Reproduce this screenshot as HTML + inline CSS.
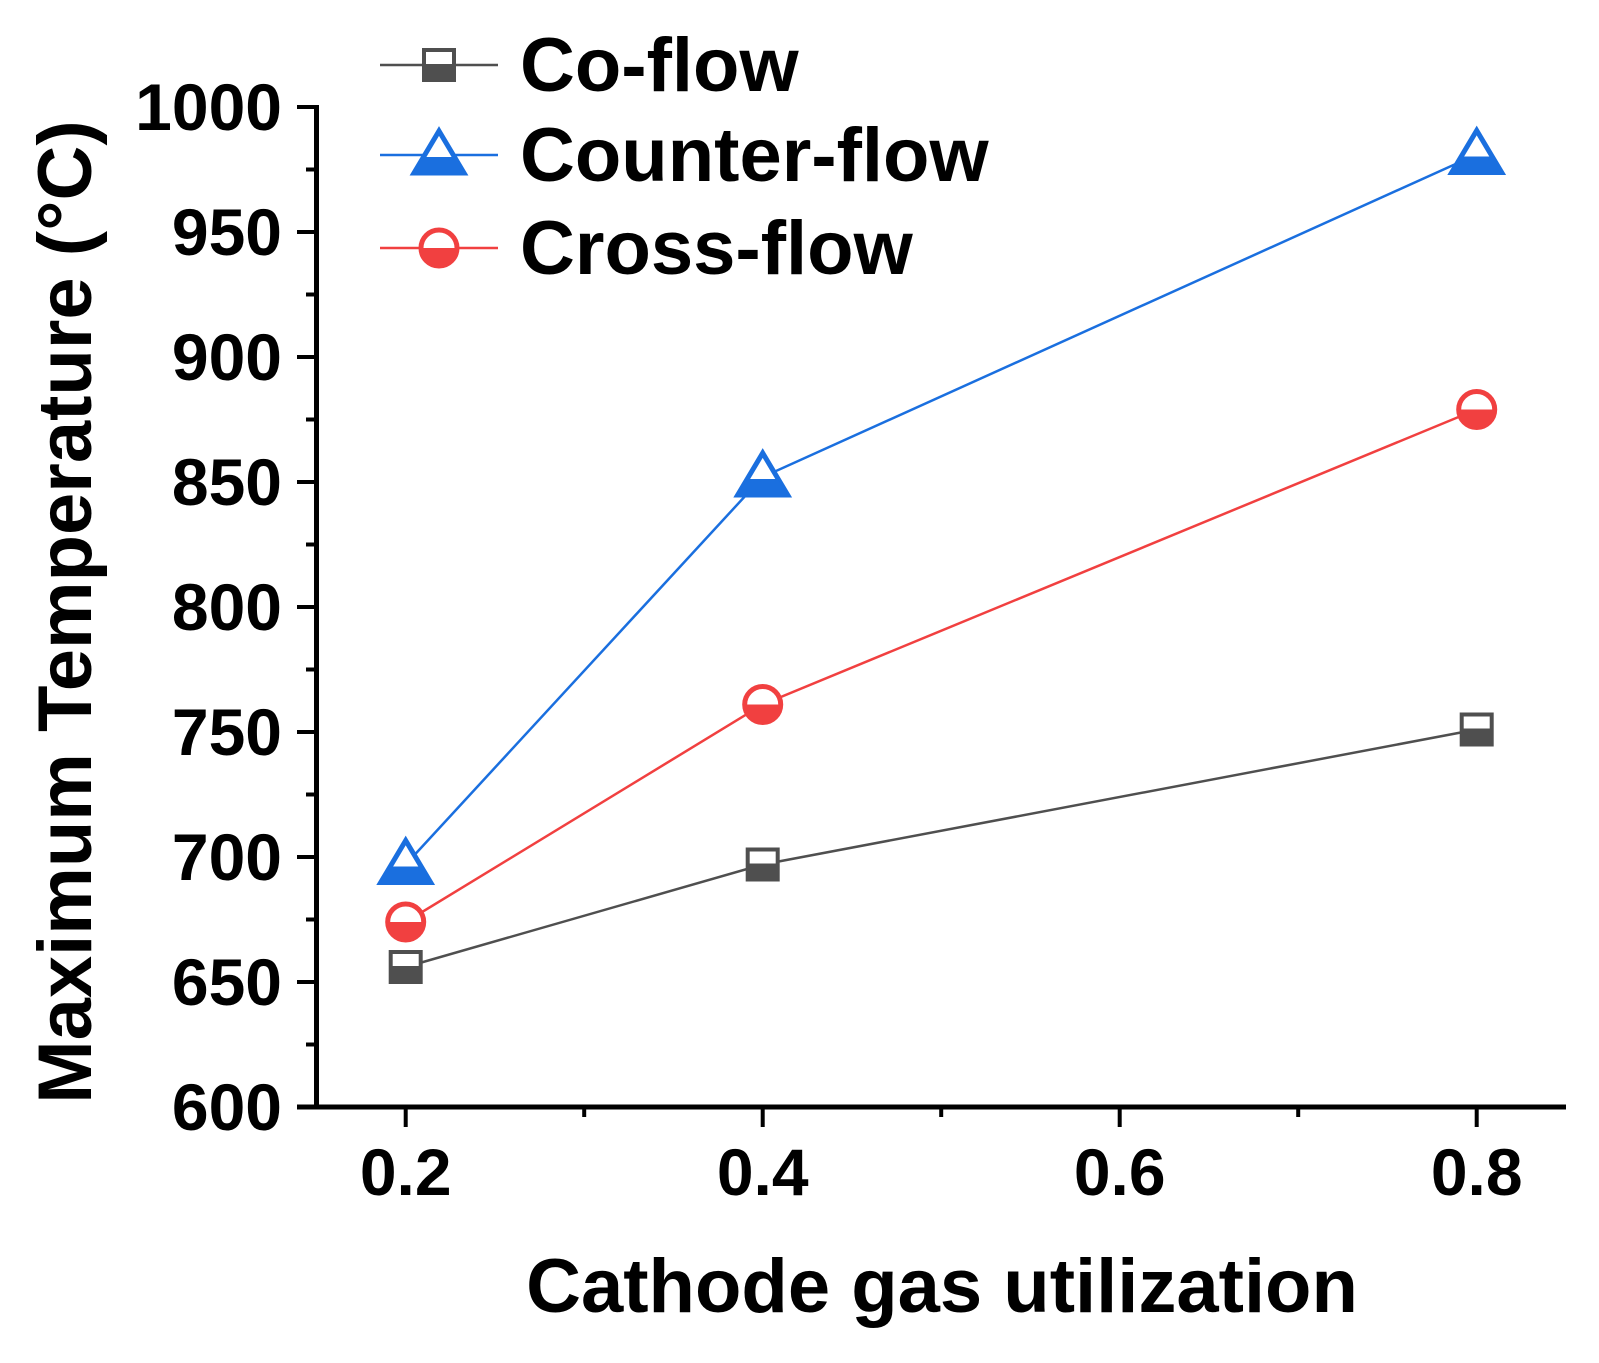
<!DOCTYPE html>
<html><head><meta charset="utf-8"><style>
html,body{margin:0;padding:0;background:#fff;}
svg{display:block;font-family:"Liberation Sans",Arial,sans-serif;font-weight:bold;}
</style></head><body>
<svg id="chart" width="1599" height="1363" viewBox="0 0 1599 1363" xmlns="http://www.w3.org/2000/svg">
<g id="axes"></g>
<g id="series"></g>
<g id="legend"></g>
</svg>
<script>
const xCats = [0.2, 0.4, 0.8];
const coFlow = [656, 697, 751];
const counterFlow = [697, 852, 981];
const crossFlow = [674, 761, 879];
const yTicks = [600, 650, 700, 750, 800, 850, 900, 950, 1000];
const xTicks = [0.2, 0.4, 0.6, 0.8];
const seriesNames = ["Co-flow", "Counter-flow", "Cross-flow"];

const NS = "http://www.w3.org/2000/svg";
const X = v => 405.7 + (v - 0.2) * 1785;
const Y = v => 1107 - (v - 600) * 2.5;
function mk(tag, attrs, parent){const e=document.createElementNS(NS,tag);for(const k in attrs)e.setAttribute(k,attrs[k]);parent.appendChild(e);return e;}
const axes=document.getElementById('axes'), ser=document.getElementById('series'), leg=document.getElementById('legend');

let e;
e=mk('line',{x1:316.5,y1:105,x2:316.5,y2:1109,stroke:'#000','stroke-width':5},axes);


e=mk('line',{x1:297,y1:1107,x2:1566,y2:1107,stroke:'#000','stroke-width':5},axes);


yTicks.forEach((t,i)=>{
  let l=mk('line',{x1:297,y1:Y(t),x2:316,y2:Y(t),stroke:'#000','stroke-width':4},axes);
  
  
  if(i<yTicks.length-1){let m=mk('line',{x1:306,y1:Y(t+25),x2:316,y2:Y(t+25),stroke:'#000','stroke-width':4},axes);
  
  }
  let tx=mk('text',{x:282,y:Y(t)+23,'text-anchor':'end','font-size':66},axes);tx.textContent=t;
  
  
});
xTicks.forEach((t,i)=>{
  let l=mk('line',{x1:X(t),y1:1107,x2:X(t),y2:1127,stroke:'#000','stroke-width':4},axes);
  
  
  let m=mk('line',{x1:X(t+0.1),y1:1107,x2:X(t+0.1),y2:1117,stroke:'#000','stroke-width':4},axes);
  
  
  let tx=mk('text',{x:X(t),y:1195,'text-anchor':'middle','font-size':66},axes);tx.textContent=t.toFixed(1);
  
  
});
e=mk('text',{x:942,y:1312,'text-anchor':'middle','font-size':76},axes);e.textContent='Cathode gas utilization';


e=mk('text',{x:0,y:0,'text-anchor':'middle','font-size':76,transform:'translate(91,612) rotate(-90)'},axes);e.textContent='Maximum Temperature (°C)';



const colors=['#4f4f4f','#1a6fdf','#f14040'];
function marker(kind,cx,cy,c,g){
  if(kind===0){
    mk('rect',{x:cx-17,y:cy-17,width:34,height:34,fill:c},g);
    mk('rect',{x:cx-13,y:cy-13,width:26,height:12,fill:'#fff'},g);
  }else if(kind===1){
    mk('polygon',{points:`${cx},${cy-24} ${cx+25},${cy+18} ${cx-25},${cy+18}`,fill:'#fff',stroke:c,'stroke-width':5,'stroke-linejoin':'miter'},g);
    mk('polygon',{points:`${cx-15},${cy+2} ${cx+15},${cy+2} ${cx+25},${cy+18} ${cx-25},${cy+18}`,fill:c},g);
  }else{
    mk('circle',{cx:cx,cy:cy,r:18,fill:'#fff',stroke:c,'stroke-width':5},g);
    mk('path',{d:`M${cx-20},${cy} A20,20 0 0 0 ${cx+20},${cy} Z`,fill:c},g);
  }
}
[coFlow,counterFlow,crossFlow].forEach((data,si)=>{
  const g=mk('g',{},ser);
  
  
  const l=mk('polyline',{points:data.map((v,i)=>X(xCats[i])+','+Y(v)).join(' '),fill:'none',stroke:colors[si],'stroke-width':2.5},g);
  
  
  data.forEach((v,i)=>{
    const mg=mk('g',{},g);
    
    
    marker(si,X(xCats[i]),Y(v),colors[si],mg);
  });
});
const legY=[65,155,248];
seriesNames.forEach((n,si)=>{
  const g=mk('g',{},leg);
  
  
  mk('line',{x1:380,y1:legY[si],x2:498,y2:legY[si],stroke:colors[si],'stroke-width':2.5},g);
  marker(si,439,legY[si],colors[si],g);
  const t=mk('text',{x:520,y:legY[si]+26,'font-size':76},g);t.textContent=n;
});
</script>
</body></html>
